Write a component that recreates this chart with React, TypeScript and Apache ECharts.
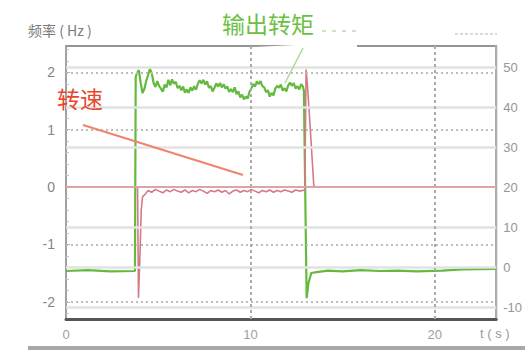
import React, { useEffect, useRef } from "react";
import * as echarts from "echarts";

// Axis tick labels
const timeTicks = [0, 10, 20];
const speedTicks = [-2, -1, 0, 1, 2];
const torqueTicks = [-10, 0, 10, 20, 30, 40, 50];

// Reference grid values
const speedGridValues = [2, 1, -1, -2];
const torqueGridValues = [50, 40, 30, 10, 0, -10];
const timeGridValues = [10, 20];

// Output torque samples: [t (s), torque]
const torqueSamples: [number, number][] = [
  [0, -1], [1.2, -0.8], [2.4, -1.1], [3.74, -1],
  [3.78, 47.5], [3.85, 48.5], [3.95, 49.2], [4.05, 46], [4.15, 43.5], [4.25, 44.5],
  [4.35, 46.5], [4.45, 48], [4.55, 49.5], [4.65, 48.5], [4.75, 46], [4.85, 45],
  [4.95, 46.5], [5.05, 45.2], [5.15, 44.6], [5.25, 43.8], [5.35, 45.6], [5.45, 44.9],
  [5.55, 46.8], [5.65, 45.4], [5.75, 46.9], [5.85, 45.8], [5.95, 46.3], [6.05, 44.7],
  [6.15, 45.3], [6.25, 44.2], [6.35, 45.1], [6.45, 43.6], [6.55, 44.4], [6.65, 43.5],
  [6.75, 44.9], [6.85, 44.1], [6.95, 45.2], [7.05, 44.3], [7.15, 45.8], [7.25, 46.7],
  [7.35, 45.9], [7.45, 46.8], [7.55, 45.6], [7.65, 46.4], [7.75, 44.8], [7.85, 45.2],
  [7.95, 43.9], [8.05, 44.8], [8.15, 45.9], [8.25, 45.1], [8.35, 46], [8.45, 44.9],
  [8.55, 45.7], [8.65, 44.6], [8.75, 45.1], [8.85, 43.8], [8.95, 44.5], [9.05, 43.7],
  [9.15, 44.9], [9.25, 43.2], [9.35, 43.9], [9.45, 42.4], [9.55, 43.1], [9.65, 41.9],
  [9.75, 42.6], [9.85, 42.1], [9.95, 43.8], [10.05, 44.6], [10.15, 45.8], [10.25, 45.1],
  [10.35, 46.4], [10.45, 45.7], [10.55, 46.5], [10.65, 45.2], [10.75, 44.9], [10.85, 43.7],
  [10.95, 44.2], [11.05, 42.6], [11.15, 43.5], [11.25, 42.9], [11.35, 44.6], [11.45, 45.3],
  [11.55, 44.8], [11.65, 45.6], [11.75, 44.1], [11.85, 44.7], [11.95, 43.9], [12.05, 45.4],
  [12.15, 46.1], [12.25, 45.3], [12.35, 46], [12.45, 44.6], [12.55, 45.2], [12.65, 44.4],
  [12.75, 45.7], [12.85, 45.1],
  [12.9, 44], [13.05, -7.8], [13.15, -4], [13.3, -1.5], [13.6, -1.3], [14.2, -0.9],
  [15.0, -1.1], [16.0, -0.8], [17.0, -1], [18.0, -0.9], [19.0, -1.1], [20.4, -0.9],
  [21.5, -0.6], [23.33, -0.5],
];

// Motor speed samples: [t (s), Hz]
const speedSamples: [number, number][] = [
  [0, 0], [3.88, 0], [3.93, -1.93], [4.0, -1.3], [4.08, -0.4], [4.15, -0.17],
  [4.3, -0.12], [4.45, -0.06], [4.65, -0.09], [4.85, -0.04], [5.05, -0.07],
  [5.25, -0.1], [5.45, -0.05], [5.65, -0.08], [5.85, -0.04], [6.05, -0.07],
  [6.25, -0.09], [6.45, -0.05], [6.65, -0.1], [6.85, -0.06], [7.05, -0.08],
  [7.25, -0.04], [7.45, -0.07], [7.65, -0.11], [7.85, -0.06], [8.05, -0.08],
  [8.25, -0.05], [8.45, -0.09], [8.65, -0.06], [8.85, -0.12], [9.05, -0.07],
  [9.25, -0.05], [9.45, -0.09], [9.65, -0.06], [9.85, -0.08], [10.05, -0.04],
  [10.25, -0.07], [10.45, -0.1], [10.65, -0.06], [10.85, -0.08], [11.05, -0.05],
  [11.25, -0.09], [11.45, -0.06], [11.65, -0.08], [11.85, -0.05], [12.05, -0.07],
  [12.25, -0.09], [12.45, -0.05], [12.65, -0.07], [12.95, -0.05],
  [13.02, 2.05], [13.1, 1.75], [13.25, 1.0], [13.44, 0.02], [13.6, 0], [23.33, 0],
];

const labelFont = "Liberation Sans, Arial, sans-serif";
const cjkFont = "Noto Sans CJK SC, sans-serif";

export default function App() {
  const ref = useRef<HTMLDivElement>(null);

  useEffect(() => {
    if (!ref.current) return;
    const chart = echarts.init(ref.current, undefined, { renderer: "svg" });

    const option: echarts.EChartsOption = {
      animation: false,
      backgroundColor: "#ffffff",
      grid: {
        left: 66,
        right: 25,
        top: 46,
        bottom: 31,
        show: true,
        borderColor: "#959595",
        borderWidth: 2,
        backgroundColor: "transparent",
      },
      xAxis: {
        type: "value",
        min: 0,
        max: 23.33,
        axisLine: { show: true, onZero: false, lineStyle: { color: "#555555", width: 3 } },
        axisTick: { show: false },
        splitLine: { show: false },
        axisLabel: {
          customValues: timeTicks,
          color: "#a0a0a0",
          fontSize: 13,
          margin: 9,
          fontFamily: labelFont,
        },
      },
      yAxis: [
        {
          type: "value",
          position: "left",
          min: -2.3,
          max: 2.46,
          axisLine: { show: true, onZero: false, lineStyle: { color: "#a0a0a0", width: 2 } },
          axisTick: {
            show: true,
            inside: true,
            length: 4,
            customValues: speedTicks,
            lineStyle: { color: "#b0b0b0" },
          },
          minorTick: { show: true, splitNumber: 5, length: 3, lineStyle: { color: "#c4c4c4" } },
          splitLine: { show: false },
          axisLabel: {
            customValues: speedTicks,
            color: "#858585",
            fontSize: 14,
            margin: 11,
            fontFamily: labelFont,
          },
        },
        {
          type: "value",
          position: "right",
          min: -13,
          max: 55.25,
          axisLine: { show: true, onZero: false, lineStyle: { color: "#acacac", width: 2 } },
          axisTick: { show: false },
          splitLine: { show: false },
          axisLabel: {
            customValues: torqueTicks,
            color: "#959595",
            fontSize: 13,
            margin: 7,
            fontFamily: labelFont,
          },
        },
      ],
      series: [
        {
          name: "grid-torque",
          type: "line",
          yAxisIndex: 1,
          data: [],
          silent: true,
          markLine: {
            silent: true,
            symbol: "none",
            label: { show: false },
            lineStyle: { color: "#e2e2e2", width: 2.5, type: "solid" },
            data: torqueGridValues.map((v) => ({ yAxis: v })),
          },
        },
        {
          name: "grid-speed",
          type: "line",
          yAxisIndex: 0,
          data: [],
          silent: true,
          markLine: {
            silent: true,
            symbol: "none",
            label: { show: false },
            lineStyle: { color: "#bdbdbd", width: 2, type: [2, 3] },
            data: [
              ...speedGridValues.map((v) => ({ yAxis: v })),
              ...timeGridValues.map((v) => ({ xAxis: v, lineStyle: { color: "#aaaaaa", width: 2, type: [3, 3] } })),
              { yAxis: 0, lineStyle: { color: "#dca4a4", width: 2, type: "solid" } },
            ],
          },
        },
        {
          name: "输出转矩",
          type: "line",
          yAxisIndex: 1,
          data: torqueSamples,
          showSymbol: false,
          lineStyle: { color: "#63ba3f", width: 2.2 },
          itemStyle: { color: "#63ba3f" },
          z: 3,
        },
        {
          name: "转速",
          type: "line",
          yAxisIndex: 0,
          data: speedSamples,
          showSymbol: false,
          lineStyle: { color: "#d47a84", width: 1.6 },
          itemStyle: { color: "#d47a84" },
          z: 4,
        },
      ],
      graphic: [
        // covers the frame behind the torque callout
        {
          type: "polygon",
          z: 100,
          shape: { points: [[252, 47], [357, 42], [357, 51], [292, 51]] },
          style: { fill: "#ffffff" },
        },
        {
          type: "text",
          z: 101,
          left: 28,
          top: 23,
          style: { text: "频率 ( Hz )", fill: "#7a7a7a", font: `14px ${cjkFont}` },
        },
        {
          type: "text",
          z: 101,
          left: 480,
          top: 327,
          style: { text: "t ( s )", fill: "#9a9a9a", font: `13px ${labelFont}` },
        },
        {
          type: "text",
          z: 101,
          left: 57,
          top: 86,
          style: { text: "转速", fill: "#e8472f", font: `23px ${cjkFont}` },
        },
        {
          type: "line",
          z: 101,
          shape: { x1: 83, y1: 125, x2: 243, y2: 175 },
          style: { stroke: "#f08270", lineWidth: 2 },
        },
        {
          type: "text",
          z: 101,
          left: 222,
          top: 11,
          style: { text: "输出转矩", fill: "#6cbf42", font: `23px ${cjkFont}` },
        },
        {
          type: "line",
          z: 101,
          shape: { x1: 322, y1: 31, x2: 356, y2: 31 },
          style: { stroke: "#b9d9aa", lineWidth: 1.5, lineDash: [4, 6] },
        },
        {
          type: "line",
          z: 101,
          shape: { x1: 303, y1: 48, x2: 285, y2: 83 },
          style: { stroke: "#aed997", lineWidth: 1.5 },
        },
        {
          type: "line",
          z: 101,
          shape: { x1: 455, y1: 34, x2: 497, y2: 34 },
          style: { stroke: "#dadada", lineWidth: 2, lineDash: [3, 2] },
        },
        {
          type: "rect",
          z: 101,
          shape: { x: 28, y: 346, width: 497, height: 4 },
          style: { fill: "#a8a8a8" },
        },
      ],
    };

    chart.setOption(option);
    return () => chart.dispose();
  }, []);

  return <div ref={ref} style={{ width: 525, height: 350, position: "absolute", left: 0, top: 0 }} />;
}
